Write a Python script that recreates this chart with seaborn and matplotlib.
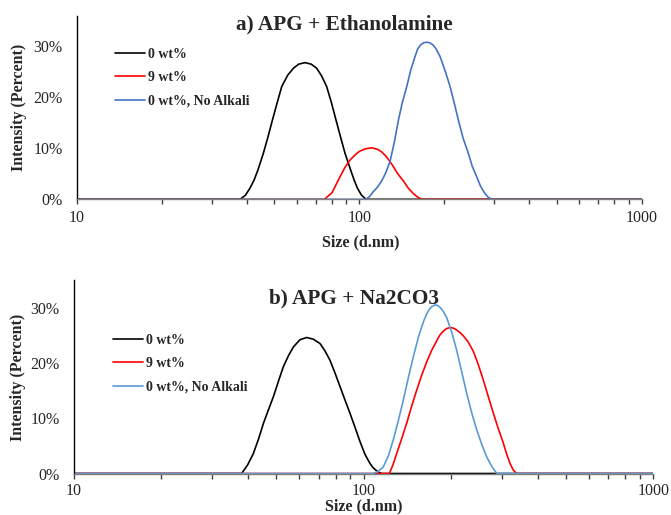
import numpy as np
import pandas as pd
import matplotlib
matplotlib.use("Agg")
import matplotlib.pyplot as plt
from matplotlib.ticker import PercentFormatter, FixedLocator, FuncFormatter, NullFormatter, LogLocator
from matplotlib.lines import Line2D
import seaborn as sns

# ---------------- data: DLS intensity distributions (size in nm, intensity in %) ----------------
series_names = ["0 wt%", "9 wt%", "0 wt%, No Alkali"]

# a) APG + Ethanolamine
a_size_0wt = [10, 37.8, 39.5, 41.0, 42.4, 43.7, 45.7, 47.5, 49.2, 51.2, 53.1, 55.7, 58.4, 61.0, 64.2,
              67.5, 70.6, 73.5, 76.6, 79.6, 82.7, 86.0, 89.0, 93.2, 95.8, 98.4, 101.8, 105.6, 1000]
a_pct_0wt = [0, 0, 0.8, 2.2, 3.8, 5.7, 9.0, 12.3, 15.5, 19.0, 22.1, 24.3, 25.7, 26.5, 26.8,
             26.5, 25.7, 24.2, 22.1, 19.0, 15.5, 12.0, 9.0, 5.7, 3.8, 2.2, 0.8, 0, 0]

a_size_9wt = [10, 75.2, 80.0, 85.4, 89.0, 92.7, 96.5, 100.0, 105.0, 110.6, 116.0, 120.0, 124.0,
              128.4, 132.0, 136.0, 139.5, 143.2, 149.0, 155.4, 161.0, 166.3, 1000]
a_pct_9wt = [0, 0, 1.3, 4.4, 6.3, 7.7, 8.7, 9.4, 9.9, 10.1, 9.8, 9.3, 8.5,
             7.4, 6.4, 5.2, 4.4, 3.6, 2.2, 1.1, 0.4, 0, 0]

a_size_noalk = [10, 105.4, 108.5, 112.1, 116.0, 120.0, 124.0, 128.4, 133.0, 137.5, 142.0, 147.2, 152.0,
                157.5, 161.0, 165.0, 169.0, 173.3, 177.5, 182.0, 187.0, 193.1, 201.0, 209.6, 217.0,
                224.3, 233.0, 243.3, 251.0, 260.5, 269.0, 278.8, 286.0, 294.4, 1000]
a_pct_noalk = [0, 0, 0.5, 1.5, 2.4, 3.6, 5.2, 7.4, 11.2, 15.5, 19.0, 22.1, 25.3,
               28.0, 29.5, 30.3, 30.7, 30.8, 30.7, 30.3, 29.5, 28.0, 25.3, 22.1, 18.8,
               15.5, 12.0, 9.0, 6.5, 4.4, 2.5, 1.1, 0.4, 0, 0]

# b) APG + Na2CO3
b_size_0wt = [10, 37.9, 39.8, 41.6, 43.4, 45.1, 46.9, 48.8, 50.8, 52.8, 55.0, 57.2, 60.3, 63.6, 67.0,
              70.7, 73.5, 76.5, 79.6, 82.9, 86.2, 89.7, 93.3, 97.1, 101.0, 105.2, 108.0, 110.9, 113.0, 115.4, 1000]
b_pct_0wt = [0, 0, 1.6, 3.6, 6.3, 9.1, 11.5, 13.9, 16.7, 19.3, 21.3, 22.9, 24.2, 24.6, 24.3,
             23.5, 22.2, 20.5, 18.2, 15.7, 13.3, 10.9, 8.4, 5.8, 3.5, 1.8, 1.0, 0.5, 0.2, 0, 0]

b_size_9wt = [10, 122.7, 126.3, 130.0, 135.3, 140.8, 146.5, 152.5, 158.7, 165.1, 171.8, 178.8, 183.0,
              188.0, 193.0, 198.7, 204.0, 209.0, 215.0, 220.9, 229.5, 239.1, 248.8, 258.9, 269.4,
              280.4, 291.7, 303.5, 311.7, 320.2, 328.8, 337.6, 1000]
b_pct_9wt = [0, 0, 1.6, 3.6, 6.3, 9.1, 12.2, 15.1, 17.8, 20.2, 22.3, 24.0, 25.0,
             25.7, 26.2, 26.4, 26.3, 26.0, 25.5, 24.9, 23.8, 22.1, 19.7, 16.9, 13.9,
             10.9, 8.1, 5.5, 3.5, 1.8, 0.6, 0, 0]

b_size_noalk = [10, 108.0, 112.4, 116.9, 121.7, 126.6, 131.8, 137.1, 142.6, 148.4, 154.4, 160.7, 164.5,
                168.0, 172.0, 176.4, 180.0, 184.0, 188.5, 193.5, 201.3, 209.5, 218.0, 226.9, 236.0,
                245.7, 255.6, 266.0, 276.8, 282.0, 288.0, 1000]
b_pct_noalk = [0, 0, 0.4, 1.2, 3.2, 6.1, 9.6, 13.3, 17.3, 21.1, 24.6, 27.4, 28.7,
               29.6, 30.2, 30.5, 30.4, 30.0, 29.3, 28.2, 25.6, 22.3, 18.4, 14.5, 11.0,
               7.9, 5.3, 3.0, 1.3, 0.7, 0, 0]

x_ticks = [10, 100, 1000]
y_ticks = [0, 10, 20, 30]


def long_frame(pairs):
    frames = []
    for name, (s, p) in zip(series_names, pairs):
        frames.append(pd.DataFrame({"size": s, "pct": p, "series": name}))
    return pd.concat(frames, ignore_index=True)


df_a = long_frame([(a_size_0wt, a_pct_0wt), (a_size_9wt, a_pct_9wt), (a_size_noalk, a_pct_noalk)])
df_b = long_frame([(b_size_0wt, b_pct_0wt), (b_size_9wt, b_pct_9wt), (b_size_noalk, b_pct_noalk)])

pal_a = {"0 wt%": "#000000", "9 wt%": "#FF0000", "0 wt%, No Alkali": "#4472C4"}
pal_b = {"0 wt%": "#000000", "9 wt%": "#FF0000", "0 wt%, No Alkali": "#5B9BD5"}

# ---------------- figure ----------------
sns.set_style("white")
plt.rcParams["font.family"] = ["Liberation Serif", "DejaVu Serif"]

W, H = 671, 515
fig = plt.figure(figsize=(W / 100, H / 100), dpi=100)


def px_axes(left, right, top, bottom):
    return fig.add_axes([left / W, 1 - bottom / H, (right - left) / W, (bottom - top) / H])


ax_a = px_axes(77, 641.7, 15.7, 199.3)
ax_b = px_axes(74, 653.3, 280.0, 473.5)

panels = [
    (ax_a, df_a, pal_a, 36, "a) APG + Ethanolamine", (344, 29), (19, 107.5), (361, 242.7), (115, 47.8), 4.5),
    (ax_b, df_b, pal_b, 35, "b) APG + Na2CO3", (353.6, 303.5), (18, 377.6), (364, 506.5), (113, 333.8), 3.5),
]

for ax, df, pal, ytop, title, tpos, ylpos, xlpos, legpos, xpad in panels:
    sns.lineplot(data=df, x="size", y="pct", hue="series", hue_order=series_names,
                 palette=pal, estimator=None, sort=False, linewidth=1.2, ax=ax, legend=False)
    ax.set_xscale("log")
    ax.set_xlim(10, 1000)
    ax.set_ylim(0, ytop)

    ax.xaxis.set_major_locator(FixedLocator(x_ticks))
    ax.xaxis.set_major_formatter(FuncFormatter(lambda v, _: f"{v:g}"))
    ax.xaxis.set_minor_locator(LogLocator(base=10, subs=np.arange(2, 10)))
    ax.xaxis.set_minor_formatter(NullFormatter())
    ax.yaxis.set_major_locator(FixedLocator(y_ticks))
    ax.yaxis.set_major_formatter(PercentFormatter(xmax=100, decimals=0))

    ax.tick_params(axis="x", which="both", direction="out", length=3.5, width=1.0,
                   color="#404040", labelsize=11.5, pad=xpad, bottom=True)
    ax.tick_params(axis="y", length=0, labelsize=11.5, pad=10.5)

    for side in ("top", "right"):
        ax.spines[side].set_visible(False)
    ax.spines["left"].set_color("black")
    ax.spines["left"].set_linewidth(1.0)
    ax.spines["bottom"].set_color("#808080")
    ax.spines["bottom"].set_linewidth(1.0)

    ax.set_xlabel("Size (d.nm)", fontsize=11.5, fontweight="bold")
    ax.xaxis.set_label_coords(xlpos[0] / W, 1 - xlpos[1] / H, transform=fig.transFigure)
    ax.xaxis.label.set_verticalalignment("center")
    ax.set_ylabel("Intensity (Percent)", fontsize=11.5, fontweight="bold")
    ax.yaxis.set_label_coords(ylpos[0] / W, 1 - ylpos[1] / H, transform=fig.transFigure)
    ax.yaxis.label.set_verticalalignment("center")

    fig.text(tpos[0] / W, 1 - tpos[1] / H, title, ha="center", va="baseline",
             fontsize=15.3, fontweight="bold")

    handles = [Line2D([], [], color=pal[n], linewidth=1.2) for n in series_names]
    ax.legend(handles, series_names, loc="upper left",
              bbox_to_anchor=(legpos[0] / W, 1 - legpos[1] / H), bbox_transform=fig.transFigure,
              frameon=False, borderpad=0, borderaxespad=0, handlelength=2.15,
              handletextpad=0.25, labelspacing=0.75,
              prop={"family": "Liberation Serif", "weight": "bold", "size": 10})

fig.savefig("out.png", dpi=100)
